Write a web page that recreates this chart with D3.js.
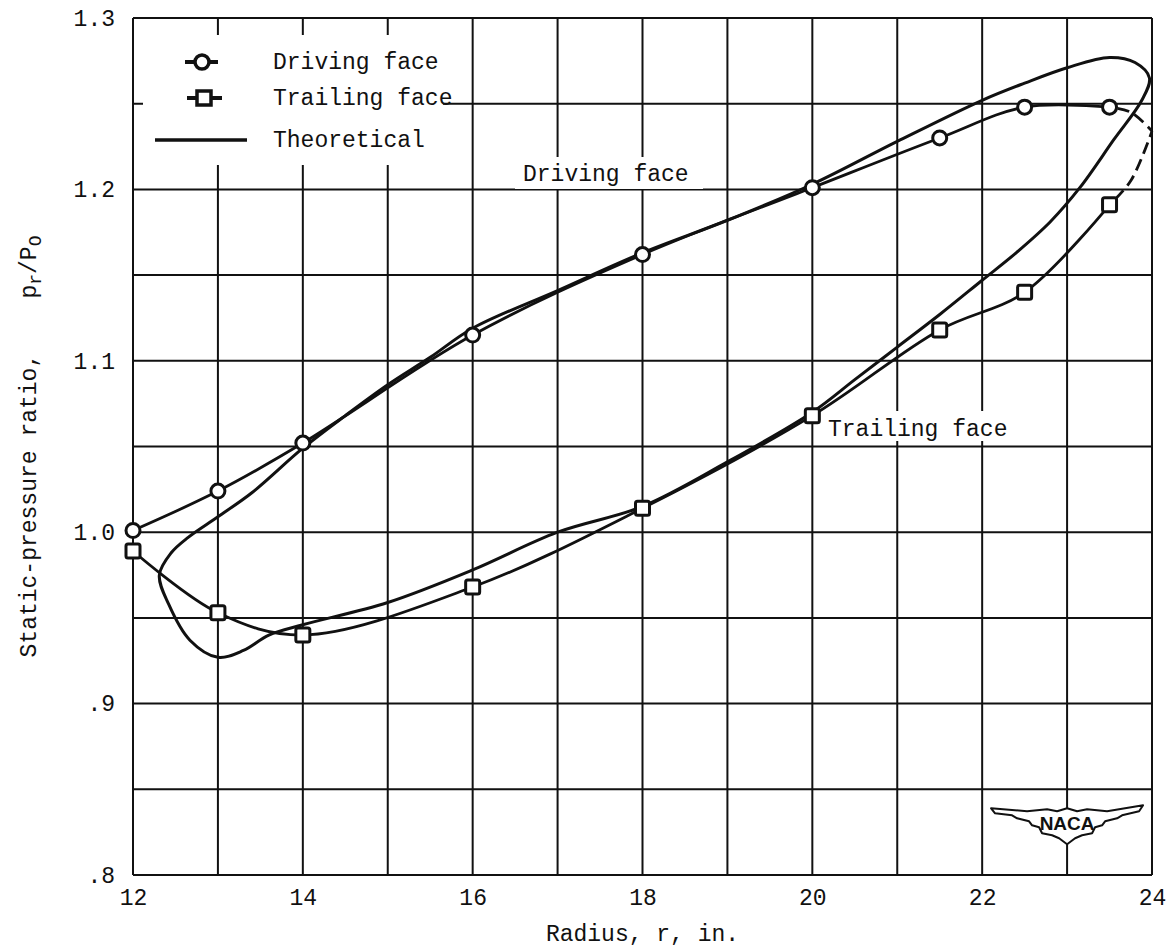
<!DOCTYPE html>
<html>
<head>
<meta charset="utf-8">
<script src="https://cdn.jsdelivr.net/npm/d3@7/dist/d3.min.js"></script>
<style>
  html, body { margin: 0; padding: 0; background: #fff; }
  svg { display: block; }
  text { font-family: "Liberation Mono", "DejaVu Sans Mono", monospace; fill: #111; }
</style>
</head>
<body>
<svg id="chart" width="1167" height="947"></svg>
<script>
// ---------- DATA ----------
const radius = [12, 13, 14, 16, 18, 20, 21.5, 22.5, 23.5];
const drivingFace = [1.001, 1.024, 1.052, 1.115, 1.162, 1.201, 1.230, 1.248, 1.248];
const trailingFace = [0.989, 0.953, 0.940, 0.968, 1.014, 1.068, 1.118, 1.140, 1.191];

// dashed extrapolations to the tip
const extRadius = [23.5, 23.75, 24];
const drivingExt = [1.248, 1.245, 1.234];
const trailingExt = [1.191, 1.205, 1.234];

// theoretical closed loop (upper branch left->right, then lower branch right->left)
const theoR = [12.31, 12.45, 12.65, 13.0, 13.4, 14.0, 14.5, 15.0, 15.5, 16.0, 17.0, 18.0, 19.0, 20.0, 21.0, 22.0, 22.5, 23.0, 23.5, 23.8, 23.97,
               23.88, 23.55, 23.15, 22.8, 22.4, 22.0, 21.5, 21.0, 20.5, 20.0, 19.0, 18.0, 17.0, 16.0, 15.0, 14.0, 13.6, 13.3, 13.0, 12.67, 12.42];
const theoP = [0.975, 0.988, 0.997, 1.009, 1.023, 1.049, 1.068, 1.086, 1.102, 1.119, 1.141, 1.163, 1.182, 1.203, 1.228, 1.252, 1.262, 1.271, 1.277, 1.274, 1.265,
               1.252, 1.229, 1.201, 1.181, 1.163, 1.147, 1.127, 1.108, 1.089, 1.070, 1.041, 1.015, 1.000, 0.978, 0.959, 0.946, 0.940, 0.931, 0.927, 0.937, 0.958];

const xTickValues = [12, 14, 16, 18, 20, 22, 24];
const xTickLabels = ["12", "14", "16", "18", "20", "22", "24"];
const yTickValues = [1.3, 1.2, 1.1, 1.0, 0.9, 0.8];
const yTickLabels = ["1.3", "1.2", "1.1", "1.0", ".9", ".8"];
const xGrid = d3.range(12, 24.001, 1);
const yGrid = d3.range(0, 11).map(i => 0.8 + i * 0.05);

const legendItems = ["Driving face", "Trailing face", "Theoretical"];

// ---------- LAYOUT ----------
const svg = d3.select("#chart");
const x = d3.scaleLinear().domain([12, 24]).range([133, 1152]);
const y = d3.scaleLinear().domain([0.8, 1.3]).range([875, 18]);
const ink = "#111";

// grid
const grid = svg.append("g");
grid.selectAll("line.v").data(xGrid).enter().append("line")
  .attr("x1", d => x(d)).attr("x2", d => x(d))
  .attr("y1", y(1.3)).attr("y2", y(0.8))
  .attr("stroke", ink).attr("stroke-width", 2);
grid.selectAll("line.h").data(yGrid).enter().append("line")
  .attr("y1", d => y(d)).attr("y2", d => y(d))
  .attr("x1", x(12)).attr("x2", x(24))
  .attr("stroke", ink).attr("stroke-width", 2);

// axes labels via d3 axes
const xAxis = d3.axisBottom(x).tickValues(xTickValues)
  .tickFormat((d, i) => xTickLabels[i]).tickSize(0).tickPadding(14);
const gx = svg.append("g").attr("transform", `translate(0,${y(0.8)})`).call(xAxis);
gx.select(".domain").remove();
gx.selectAll("text").attr("font-size", 23).attr("fill", ink)
  .style("font-family", '"Liberation Mono", monospace');

const yAxis = d3.axisLeft(y).tickValues(yTickValues)
  .tickFormat((d, i) => yTickLabels[i]).tickSize(0).tickPadding(18);
const gy = svg.append("g").attr("transform", `translate(${x(12)},0)`).call(yAxis);
gy.select(".domain").remove();
gy.selectAll("text").attr("font-size", 23).attr("fill", ink)
  .style("font-family", '"Liberation Mono", monospace');

// axis titles
svg.append("text").attr("x", (x(12) + x(24)) / 2).attr("y", 941)
  .attr("text-anchor", "middle").attr("font-size", 23).text("Radius, r, in.");

const yt = svg.append("text")
  .attr("transform", `translate(36,${(y(0.8) + y(1.3)) / 2}) rotate(-90)`)
  .attr("text-anchor", "middle").attr("font-size", 23);
yt.append("tspan").text("Static-pressure ratio,\u00a0\u00a0\u00a0\u00a0p");
yt.append("tspan").attr("baseline-shift", "-30%").attr("font-size", 18).text("r");
yt.append("tspan").text("/P");
yt.append("tspan").attr("baseline-shift", "-30%").attr("font-size", 18).text("O");

// white masks over grid (legend, labels)
svg.append("rect").attr("x", 143).attr("y", 35).attr("width", 300).attr("height", 130).attr("fill", "#fff");
svg.append("rect").attr("x", 515).attr("y", 157).attr("width", 188).attr("height", 32).attr("fill", "#fff");
svg.append("rect").attr("x", 825).attr("y", 411).attr("width", 190).attr("height", 30).attr("fill", "#fff");

// ---------- CURVES ----------
const line = d3.line().x(d => x(d[0])).y(d => y(d[1])).curve(d3.curveCatmullRom.alpha(0.5));
const loop = d3.line().x(d => x(d[0])).y(d => y(d[1])).curve(d3.curveCatmullRomClosed.alpha(0.5));

const theo = theoR.map((r, i) => [r, theoP[i]]);
svg.append("path").attr("d", loop(theo)).attr("fill", "none")
  .attr("stroke", ink).attr("stroke-width", 3).attr("stroke-linejoin", "round");

const drv = radius.map((r, i) => [r, drivingFace[i]]);
const trl = radius.map((r, i) => [r, trailingFace[i]]);
svg.append("path").attr("d", line(drv)).attr("fill", "none").attr("stroke", ink).attr("stroke-width", 2.8);
svg.append("path").attr("d", line(trl)).attr("fill", "none").attr("stroke", ink).attr("stroke-width", 2.8);

const dExt = extRadius.map((r, i) => [r, drivingExt[i]]);
const tExt = extRadius.map((r, i) => [r, trailingExt[i]]);
[dExt, tExt].forEach(p => svg.append("path").attr("d", line(p)).attr("fill", "none")
  .attr("stroke", ink).attr("stroke-width", 2.8).attr("stroke-dasharray", "12,6").attr("stroke-dashoffset", -8));

// markers
svg.selectAll("circle.drv").data(drv).enter().append("circle")
  .attr("cx", d => x(d[0])).attr("cy", d => y(d[1])).attr("r", 7)
  .attr("fill", "#fff").attr("stroke", ink).attr("stroke-width", 3);
svg.selectAll("rect.trl").data(trl).enter().append("rect")
  .attr("x", d => x(d[0]) - 7).attr("y", d => y(d[1]) - 7)
  .attr("width", 14).attr("height", 14).attr("rx", 2)
  .attr("fill", "#fff").attr("stroke", ink).attr("stroke-width", 3);

// curve labels
svg.append("text").attr("x", 523).attr("y", 181).attr("font-size", 23).text("Driving face");
svg.append("text").attr("x", 828).attr("y", 436).attr("font-size", 23).text("Trailing face");

// ---------- LEGEND ----------
const lg = svg.append("g");
const ly = [62, 98, 140];
lg.append("line").attr("x1", 185).attr("x2", 218).attr("y1", ly[0]).attr("y2", ly[0]).attr("stroke", ink).attr("stroke-width", 4);
lg.append("circle").attr("cx", 202).attr("cy", ly[0]).attr("r", 7).attr("fill", "#fff").attr("stroke", ink).attr("stroke-width", 3.5);
lg.append("line").attr("x1", 187).attr("x2", 222).attr("y1", ly[1]).attr("y2", ly[1]).attr("stroke", ink).attr("stroke-width", 4);
lg.append("rect").attr("x", 197).attr("y", ly[1] - 7).attr("width", 14).attr("height", 14)
  .attr("fill", "#fff").attr("stroke", ink).attr("stroke-width", 3.5);
lg.append("line").attr("x1", 155).attr("x2", 247).attr("y1", ly[2]).attr("y2", ly[2]).attr("stroke", ink).attr("stroke-width", 3.5);
lg.selectAll("text").data(legendItems).enter().append("text")
  .attr("x", 273).attr("y", (d, i) => ly[i] + 7).attr("font-size", 23).text(d => d);

// ---------- NACA LOGO ----------
const lx = x(23), lyc = y(0.829);
const wing = [
  [-76, -17], [-40, -14], [-20, -16], [-10, -14], [0, -17], [10, -14], [20, -16], [40, -14], [76, -20],
  [72, -14], [55, -10], [50, -7], [38, -4], [35, 0], [28, 2], [25, 8], [15, 10], [8, 13], [0, 19],
  [-8, 13], [-15, 10], [-25, 8], [-28, 2], [-35, 0], [-38, -4], [-50, -7], [-55, -10], [-72, -12]
];
const logo = svg.append("g").attr("transform", `translate(${lx},${lyc})`);
logo.append("path").attr("d", d3.line().curve(d3.curveLinearClosed)(wing))
  .attr("fill", "#fff").attr("stroke", ink).attr("stroke-width", 2).attr("stroke-linejoin", "round");
logo.append("text").attr("x", 0).attr("y", 5).attr("text-anchor", "middle")
  .attr("font-size", 19).attr("font-weight", "bold")
  .style("font-family", '"Liberation Sans", Arial, sans-serif').text("NACA");
</script>
</body>
</html>
